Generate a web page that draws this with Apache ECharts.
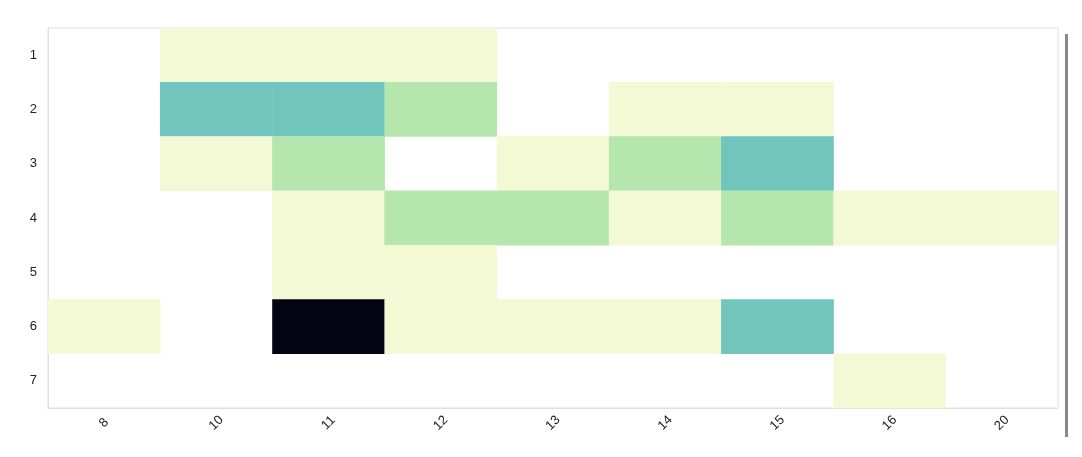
<!DOCTYPE html>
<html><head><meta charset="utf-8">
<script src="https://cdn.jsdelivr.net/npm/echarts@6/dist/echarts.min.js"></script>
<style>html,body{margin:0;padding:0;background:#fff}#c{width:1082px;height:457px}</style>
</head><body><div id="c"></div>
<script>
const xCats = ['8','10','11','12','13','14','15','16','20'];
const yCats = ['1','2','3','4','5','6','7'];
// [x, y, value]
const cells = [
  ['10','1',1],['11','1',1],['12','1',1],
  ['10','2',3],['11','2',3],['12','2',2],['14','2',1],['15','2',1],
  ['10','3',1],['11','3',2],['13','3',1],['14','3',2],['15','3',3],
  ['11','4',1],['12','4',2],['13','4',2],['14','4',1],['15','4',2],['16','4',1],['20','4',1],
  ['11','5',1],['12','5',1],
  ['8','6',1],['11','6',6],['12','6',1],['13','6',1],['14','6',1],['15','6',3],
  ['16','7',1]
];
const chart = echarts.init(document.getElementById('c'));
chart.setOption({
  animation:false,
  grid:{left:48,right:24,top:28,bottom:49,show:true,borderColor:'#e0e0e0',borderWidth:1,backgroundColor:'transparent'},
  xAxis:{type:'category',data:xCats,
    axisLine:{lineStyle:{color:'#e0e0e0'}},axisTick:{alignWithLabel:true,length:6,lineStyle:{color:'#e0e0e0'}},
    axisLabel:{rotate:45,align:'center',verticalAlign:'middle',margin:15,color:'#222',fontSize:13,fontFamily:'Helvetica, Arial, sans-serif'},splitLine:{show:false}},
  yAxis:{type:'category',data:yCats,inverse:true,
    axisLine:{lineStyle:{color:'#e0e0e0'}},axisTick:{alignWithLabel:true,length:6,lineStyle:{color:'#e0e0e0'}},
    axisLabel:{color:'#222',fontSize:13,margin:11,fontFamily:'Helvetica, Arial, sans-serif'},splitLine:{show:false}},
  visualMap:{type:'piecewise',show:false,dimension:2,pieces:[
    {value:1,color:'#f3f9d5'},{value:2,color:'#b4e6ae'},{value:3,color:'#70c6bc'},{gte:4,color:'#050414'}]},
  series:[{type:'heatmap',data:cells,itemStyle:{borderWidth:0},emphasis:{disabled:true}}],
  graphic:[{type:'rect',shape:{x:1065,y:34,width:3,height:403},style:{fill:'#888'}}]
});
</script></body></html>
